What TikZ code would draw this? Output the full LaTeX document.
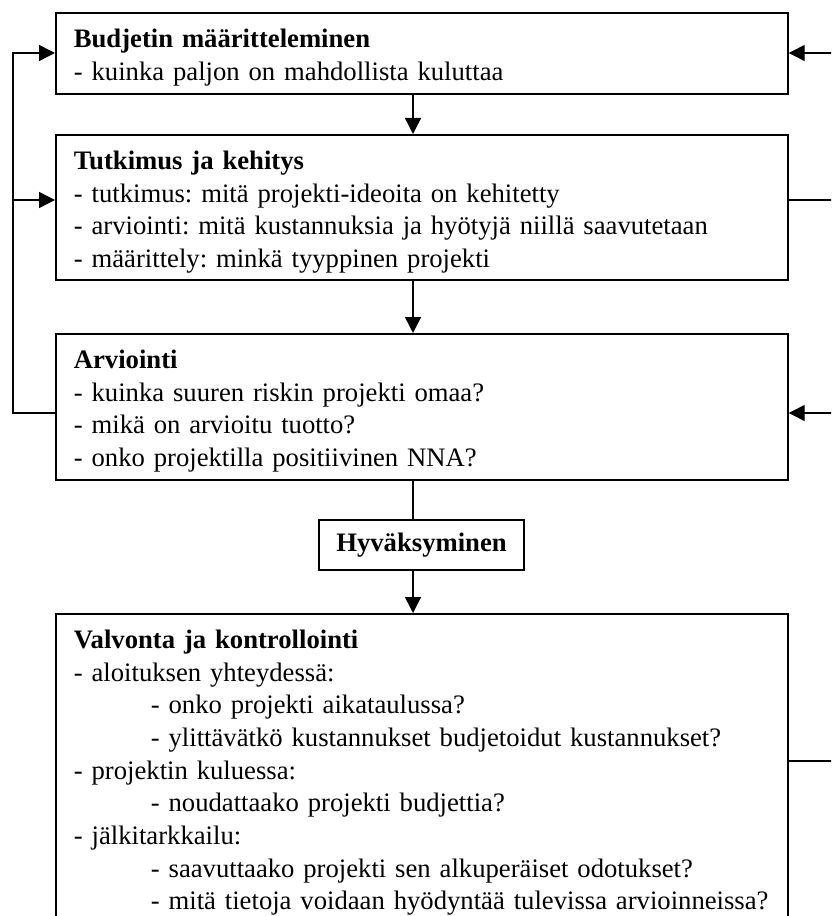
\documentclass[tikz,border=0pt]{standalone}
\usepackage{fontspec}
\setmainfont{Liberation Serif}
\usetikzlibrary{arrows.meta}
\frenchspacing
\newcommand{\alakohta}{\hspace*{57.75pt}}
\newcommand{\ylaraja}{\rule{0pt}{26pt}}
\newcommand{\alaraja}[1]{\rule[-#1]{0pt}{#1}}
\tikzset{
  vaihe/.style={draw, line width=1.3pt, anchor=north west, text width=522pt,
    inner xsep=13.5pt, inner ysep=0pt, align=left,
    font=\fontsize{20pt}{24.5pt}\selectfont},
  paatos/.style={draw, line width=1.3pt, minimum width=153.75pt, minimum height=37.5pt,
    inner sep=0pt, font=\fontsize{20pt}{24.5pt}\selectfont\bfseries}
}
\begin{document}
\begin{tikzpicture}[x=0.75pt,y=-0.75pt,line width=1.1pt,>={Triangle[length=12pt,width=12pt]}]
\clip (0,0) rectangle (831,916);
% vaiheet
\node[vaihe] (budjetti) at (55,12) {\ylaraja\textbf{Budjetin määritteleminen}\\
  - kuinka paljon on mahdollista kuluttaa\alaraja{10.25pt}};
\node[vaihe] (tutkimus) at (55,134) {\ylaraja\textbf{Tutkimus ja kehitys}\\
  - tutkimus: mitä projekti-ideoita on kehitetty\\
  - arviointi: mitä kustannuksia ja hyötyjä niillä saavutetaan\\
  - määrittely: minkä tyyppinen projekti\alaraja{9.25pt}};
\node[vaihe] (arviointi) at (55,333) {\ylaraja\textbf{Arviointi}\\
  - kuinka suuren riskin projekti omaa?\\
  - mikä on arvioitu tuotto?\\
  - onko projektilla positiivinen NNA?\alaraja{10pt}};
\node[paatos] (hyvaksyminen) at (421.5,545) {Hyväksyminen};
\node[vaihe] (valvonta) at (55,613) {\ylaraja\textbf{Valvonta ja kontrollointi}\\
  - aloituksen yhteydessä:\\
  \alakohta- onko projekti aikataulussa?\\
  \alakohta- ylittävätkö kustannukset budjetoidut kustannukset?\\
  - projektin kuluessa:\\
  \alakohta- noudattaako projekti budjettia?\\
  - jälkitarkkailu:\\
  \alakohta- saavuttaako projekti sen alkuperäiset odotukset?\\
  \alakohta- mitä tietoja voidaan hyödyntää tulevissa arvioinneissa?\alaraja{30pt}};
% apupisteet
\coordinate (keski) at (413,0);
\coordinate (vasen) at (13,0);
\coordinate (oikea) at (840,0);
\coordinate (y1) at (0,53);
\coordinate (y2) at (0,200);
\coordinate (y3) at (0,413);
\coordinate (y4) at (0,761);
% keskilinja
\draw[->] (keski |- budjetti.south) -- (keski |- tutkimus.north);
\draw[->] (keski |- tutkimus.south) -- (keski |- arviointi.north);
\draw (keski |- arviointi.south) -- (keski |- hyvaksyminen.north);
\draw[->] (keski |- hyvaksyminen.south) -- (keski |- valvonta.north);
% vasen silmukka
\draw[->] (arviointi.west |- y3) -- (vasen |- y3) -- (vasen |- y1) -- (budjetti.west |- y1);
\draw[->] (vasen |- y2) -- (tutkimus.west |- y2);
% oikea reuna
\draw[->] (oikea |- y1) -- (budjetti.east |- y1);
\draw (tutkimus.east |- y2) -- (oikea |- y2);
\draw[->] (oikea |- y3) -- (arviointi.east |- y3);
\draw (valvonta.east |- y4) -- (oikea |- y4);
\end{tikzpicture}
\end{document}
